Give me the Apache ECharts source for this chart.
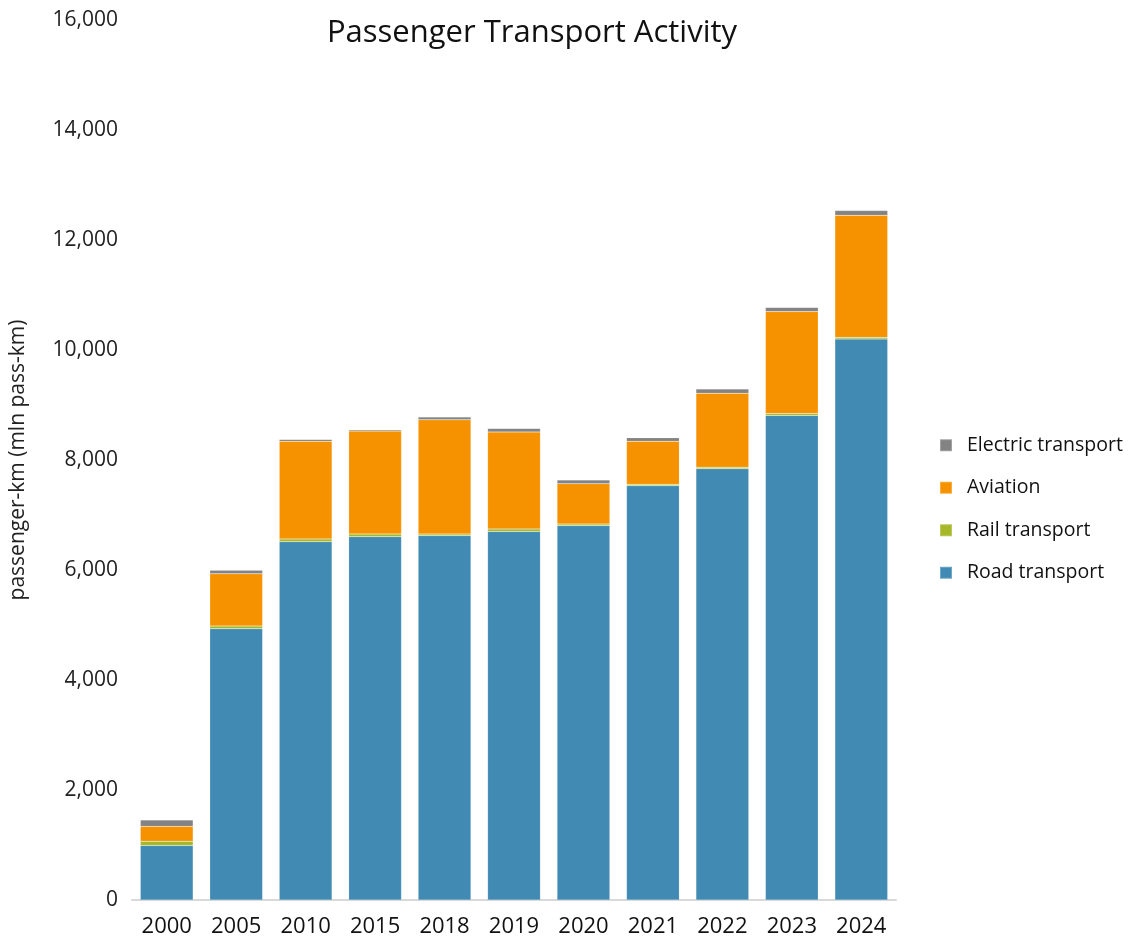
<!DOCTYPE html>
<html>
<head>
<meta charset="utf-8">
<title>Passenger Transport Activity</title>
<script src="https://cdn.jsdelivr.net/npm/echarts@6/dist/echarts.min.js"></script>
<style>
  html, body { margin: 0; padding: 0; background: #ffffff; }
  #chart { width: 1130px; height: 940px; }
</style>
</head>
<body>
<div id="chart"></div>
<script>
// Passenger-km by transport mode (mln pass-km)
const years = ['2000', '2005', '2010', '2015', '2018', '2019', '2020', '2021', '2022', '2023', '2024'];
const roadTransport     = [990, 4930, 6515, 6605, 6625, 6700, 6805, 7530, 7840, 8810, 10200];
const railTransport     = [80, 50, 50, 50, 30, 45, 30, 30, 30, 35, 30];
const aviation          = [270, 950, 1775, 1870, 2075, 1765, 735, 780, 1345, 1855, 2220];
const electricTransport = [115, 65, 35, 20, 50, 65, 65, 65, 75, 75, 85];
const yTicks = [0, 2000, 4000, 6000, 8000, 10000, 12000, 14000, 16000];

const FONT = '"Open Sans", "DejaVu Sans", sans-serif';

function barSeries(name, data, color) {
  return {
    name: name,
    type: 'bar',
    stack: 'total',
    data: data,
    barCategoryGap: '24%',
    itemStyle: { color: color, borderColor: 'rgba(255,255,255,0.25)', borderWidth: 0.5 },
    emphasis: { disabled: true }
  };
}

const chart = echarts.init(document.getElementById('chart'), null, { renderer: 'canvas' });
chart.setOption({
  animation: false,
  backgroundColor: '#ffffff',
  textStyle: { fontFamily: FONT },
  title: {
    text: 'Passenger Transport Activity',
    left: 527,
    textAlign: 'center',
    top: 13,
    textStyle: { fontFamily: FONT, fontSize: 31, fontWeight: 'normal', color: '#111111' }
  },
  legend: {
    orient: 'vertical',
    left: 934,
    top: 430,
    itemWidth: 12,
    itemHeight: 12,
    itemGap: 22,
    icon: 'rect',
    data: ['Electric transport', 'Aviation', 'Rail transport', 'Road transport'],
    textStyle: { fontFamily: FONT, fontSize: 19.5, color: '#111111', lineHeight: 20.5, padding: [0, 0, 0, 10] }
  },
  grid: { left: 131, right: 234, top: 20, bottom: 40, containLabel: false },
  xAxis: {
    type: 'category',
    data: years,
    axisLine: { show: true, lineStyle: { color: '#d9d9d9', width: 2 } },
    axisTick: { show: false },
    axisLabel: { fontFamily: FONT, fontSize: 22, color: '#111111', margin: 16 }
  },
  yAxis: {
    type: 'value',
    min: yTicks[0],
    max: yTicks[yTicks.length - 1],
    interval: yTicks[1] - yTicks[0],
    name: 'passenger-km (mln pass-km)',
    nameLocation: 'middle',
    nameRotate: 90,
    nameGap: 103,
    nameTextStyle: { fontFamily: FONT, fontSize: 21, color: '#222222' },
    axisLine: { show: false },
    axisTick: { show: false },
    splitLine: { show: false },
    axisLabel: {
      fontFamily: FONT, fontSize: 21, color: '#222222', margin: 14,
      formatter: v => v.toLocaleString('en-US')
    }
  },
  series: [
    barSeries('Road transport', roadTransport, '#418AB3'),
    barSeries('Rail transport', railTransport, '#A6B727'),
    barSeries('Aviation', aviation, '#F69200'),
    barSeries('Electric transport', electricTransport, '#838383')
  ]
});
</script>
</body>
</html>
